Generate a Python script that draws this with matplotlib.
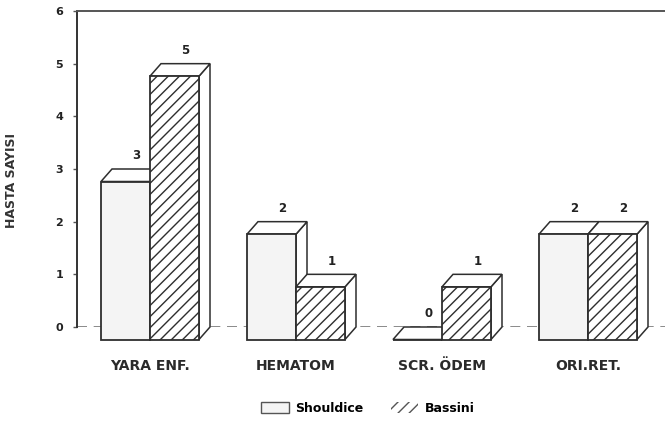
import matplotlib
matplotlib.use("Agg")
import matplotlib.pyplot as plt
from matplotlib.patches import Patch
import numpy as np

categories = ["YARA ENF.", "HEMATOM", "SCR. ÖDEM", "ORI.RET."]
shouldice = [3, 2, 0, 2]
bassini = [5, 1, 1, 2]
series_names = ["Shouldice", "Bassini"]
y_ticks = [0, 1, 2, 3, 4, 5, 6]

plt.rcParams['hatch.linewidth'] = 1.0
plt.rcParams['hatch.color'] = '#4a4a4a'

fig = plt.figure(figsize=(6.65, 4.3), dpi=100)
ax = fig.add_axes([77/665, 103/430, 588/665, 316/430])

x0 = -(161 - 77) / 146
ax.set_xlim(x0, x0 + 588 / 146)
ax.set_ylim(0, 6)

W = 49 / 146          # bar width (data units)
DX = 11 / 146         # depth offset x
DY = 12.5 / 316 * 6   # depth offset y

edge = '#2e2e2e'
idx = np.arange(len(categories))

# baseline
ax.axhline(0, color='#777777', lw=1.2, ls=(0, (6, 4)), zorder=0)

def draw_bar(xl, h, face, hatch):
    xr = xl + W
    # side face
    ax.fill([xr - DX, xr, xr, xr - DX], [h - DY, h, 0, -DY],
            facecolor='white', edgecolor=edge, lw=1.1, clip_on=False, zorder=2)
    # top face
    ax.fill([xl - DX, xr - DX, xr, xl], [h - DY, h - DY, h, h],
            facecolor='white', edgecolor=edge, lw=1.1, clip_on=False, zorder=2)
    # front face
    ax.bar(xl - DX, h, width=W, bottom=-DY, align='edge', facecolor=face,
           edgecolor=edge, lw=1.3, hatch=hatch, clip_on=False, zorder=3)

for i in idx:
    draw_bar(i - W, shouldice[i], '#f4f4f4', None)
    draw_bar(i, bassini[i], 'white', '///')
    ax.text(i - W / 2, shouldice[i] + 0.25, str(shouldice[i]), ha='center', va='center',
            fontsize=8.5, fontweight='bold', color='#222222', zorder=5)
    ax.text(i + W / 2, bassini[i] + 0.25, str(bassini[i]), ha='center', va='center',
            fontsize=8.5, fontweight='bold', color='#222222', zorder=5)

# spines
for s in ['right', 'bottom']:
    ax.spines[s].set_visible(False)
ax.spines['left'].set_color('#333333')
ax.spines['left'].set_linewidth(1.4)
ax.spines['top'].set_color('#555555')
ax.spines['top'].set_linewidth(1.4)

ax.set_yticks(y_ticks)
ax.set_yticklabels([str(t) for t in y_ticks], fontsize=8, fontweight='bold', color='#222222')
ax.tick_params(axis='y', length=3, width=1, color='#555555', pad=7)

ax.set_xticks(idx - DX)
ax.set_xticklabels(categories, fontsize=10, fontweight='bold', color='#2a2a2a')
ax.tick_params(axis='x', length=0, pad=23)

ax.set_ylabel("HASTA SAYISI", fontsize=9, fontweight='bold', color='#333333')
ax.yaxis.set_label_coords((18 - 77) / 588, 0.465)

handles = [Patch(facecolor='#f4f4f4', edgecolor='#555555', lw=1.0, label=series_names[0]),
           Patch(facecolor='white', edgecolor='#555555', lw=0, hatch='///', label=series_names[1])]
fig.legend(handles=handles, loc='center', bbox_to_anchor=(368/665, 1 - 408/430), ncol=2,
           frameon=False, prop={'weight': 'bold', 'size': 9},
           handlelength=2.2, handleheight=1.0, columnspacing=2.2, handletextpad=0.5)

fig.savefig("out.png", dpi=100)
